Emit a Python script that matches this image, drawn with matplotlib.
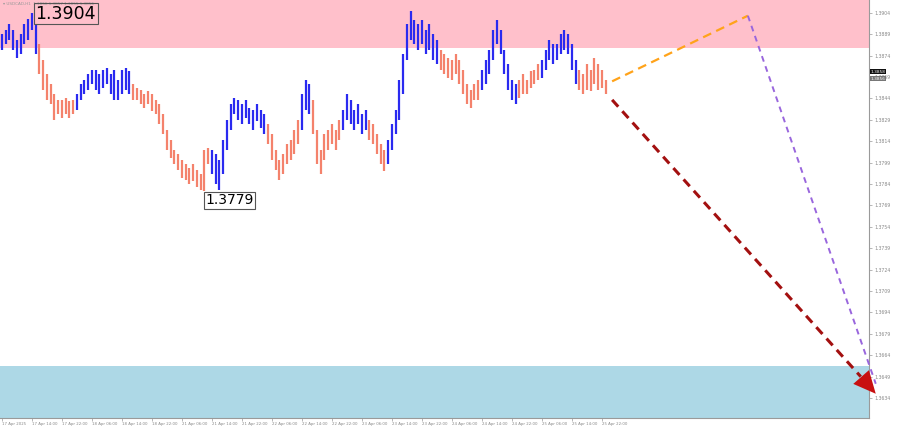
import numpy as np
import matplotlib
matplotlib.use("Agg")
import matplotlib.pyplot as plt

# USDCAD H1 bars (high / low per bar)
highs = [
    1.3889, 1.3892, 1.3896, 1.3892, 1.3885, 1.3889, 1.3896, 1.3900, 1.3904, 1.3896,
    1.3882, 1.3871, 1.3861, 1.3854, 1.3847, 1.3843, 1.3843, 1.3844, 1.3842, 1.3843,
    1.3847, 1.3854, 1.3857, 1.3861, 1.3864, 1.3864, 1.3861, 1.3864, 1.3865, 1.3861,
    1.3864, 1.3857, 1.3864, 1.3865, 1.3863, 1.3854, 1.3851, 1.3850, 1.3847, 1.3849,
    1.3847, 1.3843, 1.3840, 1.3833, 1.3822, 1.3815, 1.3808, 1.3805, 1.3801, 1.3798,
    1.3795, 1.3798, 1.3794, 1.3791, 1.3808, 1.3809, 1.3808, 1.3805, 1.3801, 1.3815,
    1.3829, 1.3840, 1.3844, 1.3843, 1.3840, 1.3843, 1.3837, 1.3836, 1.3840, 1.3836,
    1.3833, 1.3826, 1.3819, 1.3808, 1.3801, 1.3805, 1.3812, 1.3815, 1.3822, 1.3829,
    1.3847, 1.3857, 1.3854, 1.3843, 1.3822, 1.3808, 1.3819, 1.3822, 1.3826, 1.3822,
    1.3829, 1.3836, 1.3847, 1.3843, 1.3836, 1.3840, 1.3833, 1.3836, 1.3829, 1.3826,
    1.3819, 1.3812, 1.3808, 1.3815, 1.3826, 1.3836, 1.3857, 1.3875, 1.3896, 1.3905,
    1.3899, 1.3896, 1.3899, 1.3892, 1.3896, 1.3889, 1.3885, 1.3878, 1.3875, 1.3872,
    1.3871, 1.3875, 1.3871, 1.3864, 1.3854, 1.3850, 1.3854, 1.3857, 1.3864, 1.3871,
    1.3878, 1.3892, 1.3899, 1.3892, 1.3878, 1.3868, 1.3857, 1.3854, 1.3857, 1.3861,
    1.3857, 1.3863, 1.3864, 1.3868, 1.3871, 1.3878, 1.3885, 1.3882, 1.3882, 1.3889,
    1.3892, 1.3889, 1.3882, 1.3871, 1.3864, 1.3861, 1.3868, 1.3864, 1.3872, 1.3868,
    1.3864, 1.3857,
]
lows = [
    1.3878, 1.3882, 1.3885, 1.3878, 1.3872, 1.3875, 1.3882, 1.3885, 1.3892, 1.3875,
    1.3861, 1.3850, 1.3843, 1.3840, 1.3829, 1.3833, 1.3830, 1.3833, 1.3830, 1.3833,
    1.3836, 1.3843, 1.3847, 1.3850, 1.3854, 1.3850, 1.3847, 1.3851, 1.3854, 1.3847,
    1.3843, 1.3843, 1.3847, 1.3850, 1.3847, 1.3843, 1.3843, 1.3840, 1.3837, 1.3840,
    1.3835, 1.3833, 1.3826, 1.3819, 1.3808, 1.3802, 1.3798, 1.3794, 1.3788, 1.3787,
    1.3784, 1.3786, 1.3782, 1.3780, 1.3779, 1.3798, 1.3791, 1.3784, 1.3780, 1.3791,
    1.3808, 1.3822, 1.3833, 1.3829, 1.3826, 1.3830, 1.3826, 1.3822, 1.3828, 1.3823,
    1.3819, 1.3812, 1.3801, 1.3794, 1.3787, 1.3791, 1.3798, 1.3801, 1.3805, 1.3812,
    1.3822, 1.3836, 1.3833, 1.3819, 1.3798, 1.3791, 1.3801, 1.3808, 1.3812, 1.3808,
    1.3815, 1.3822, 1.3829, 1.3826, 1.3822, 1.3826, 1.3819, 1.3822, 1.3815, 1.3812,
    1.3805, 1.3798, 1.3793, 1.3798, 1.3808, 1.3819, 1.3829, 1.3847, 1.3871, 1.3885,
    1.3882, 1.3878, 1.3882, 1.3875, 1.3878, 1.3871, 1.3868, 1.3864, 1.3861, 1.3858,
    1.3857, 1.3861, 1.3854, 1.3847, 1.3840, 1.3837, 1.3843, 1.3843, 1.3850, 1.3854,
    1.3861, 1.3871, 1.3882, 1.3875, 1.3861, 1.3850, 1.3843, 1.3840, 1.3844, 1.3847,
    1.3847, 1.3851, 1.3854, 1.3857, 1.3858, 1.3864, 1.3871, 1.3868, 1.3871, 1.3875,
    1.3878, 1.3875, 1.3864, 1.3854, 1.3850, 1.3847, 1.3850, 1.3849, 1.3854, 1.3850,
    1.3851, 1.3847,
]

# wave segments: (first bar, last bar, direction)
segments = [
    (0, 9, "up"), (10, 19, "down"), (20, 34, "up"), (35, 55, "down"),
    (56, 70, "up"), (71, 79, "down"), (80, 82, "up"), (83, 90, "down"),
    (91, 97, "up"), (98, 102, "down"), (103, 116, "up"), (117, 127, "down"),
    (128, 137, "up"), (138, 143, "down"), (144, 153, "up"), (154, 161, "down"),
]

time_labels = [
    "17 Apr 2025", "17 Apr 14:00", "17 Apr 22:00", "18 Apr 06:00", "18 Apr 14:00",
    "18 Apr 22:00", "21 Apr 06:00", "21 Apr 14:00", "21 Apr 22:00", "22 Apr 06:00",
    "22 Apr 14:00", "22 Apr 22:00", "23 Apr 06:00", "23 Apr 14:00", "23 Apr 22:00",
    "24 Apr 06:00", "24 Apr 14:00", "24 Apr 22:00", "25 Apr 06:00", "25 Apr 14:00",
    "25 Apr 22:00",
]
price_ticks = [1.3634, 1.3649, 1.3664, 1.3679, 1.3694, 1.3709, 1.3724, 1.3739,
               1.3754, 1.3769, 1.3784, 1.3799, 1.3814, 1.3829, 1.3844, 1.3859,
               1.3874, 1.3889, 1.3904]

# zones and forecast
resistance_zone = (1.38794, 1.3913)
support_zone = (1.3620, 1.36568)
orange_x = [162.7, 198.9]
orange_y = [1.3856, 1.3902]
purple_x = [198.9, 233.0]
purple_y = [1.3902, 1.3644]
red_x = [162.7, 233.0]
red_y = [1.3843, 1.3637]

BLUE = "#2a2af0"
SALMON = "#f4826c"

fig = plt.figure(figsize=(9, 4.29), dpi=100)
ax = fig.add_axes([0.0, 11 / 429, 869 / 900, 418 / 429])
ax.set_xlim(-0.53, 231.2)
ax.set_ylim(1.3620, 1.3913)

ax.axhspan(*resistance_zone, color="#ffc0cb", zorder=0, lw=0)
ax.axhspan(*support_zone, color="#add8e6", zorder=0, lw=0)

idx = np.arange(len(highs))
for a, b, d in segments:
    c = BLUE if d == "up" else SALMON
    ax.vlines(idx[a:b + 1], lows[a:b + 1], highs[a:b + 1], color=c, lw=1.6, zorder=3)

# forecast lines
ax.plot(orange_x, orange_y, color="#ffa31a", lw=1.6, ls=(0, (4, 2.5)), zorder=4)
ax.plot(purple_x, purple_y, color="#9966dd", lw=1.4, ls=(0, (3, 2.5)), zorder=4, clip_on=False)
ax.plot([red_x[0], red_x[1] - 4], [red_y[0], red_y[1] + 0.0012],
        color="#a31010", lw=2.2, ls=(0, (3, 2)), zorder=5, clip_on=False)
ax.annotate("", xy=(red_x[1], red_y[1]), xytext=(red_x[1] - 6, red_y[1] + 0.0018),
            arrowprops=dict(arrowstyle="-|>,head_length=1.6,head_width=0.75",
                            color="#c81010", lw=0, shrinkA=0, shrinkB=0),
            annotation_clip=False, zorder=6)

# extreme labels
ax.text(8.9, 1.39035, "1.3904", fontsize=12.5, va="center", ha="left", color="black",
        bbox=dict(boxstyle="square,pad=0.1", fc="none", ec="#555555", lw=0.8), zorder=6)
ax.text(54.2, 1.37725, "1.3779", fontsize=10, va="center", ha="left", color="black",
        bbox=dict(boxstyle="square,pad=0.12", fc="white", ec="#555555", lw=0.8), zorder=6)

# header
ax.text(0.003, 0.995, "\u25be USDCAD,H1  1.3856 1.3857 1.3855 1.3856", transform=ax.transAxes,
        fontsize=3.0, color="#999999", va="top", ha="left")

# axes styling
for s in ["left", "top"]:
    ax.spines[s].set_visible(False)
for s in ["right", "bottom"]:
    ax.spines[s].set_color("#9a9a9a")
    ax.spines[s].set_linewidth(0.8)
ax.yaxis.tick_right()
ax.set_yticks(price_ticks)
ax.set_yticklabels([f"{p:.4f}" for p in price_ticks])
ax.tick_params(axis="y", labelsize=3.3, labelcolor="#888888", color="#9a9a9a",
               length=2, width=0.5, pad=2)
ax.set_xticks(np.arange(0, 8 * len(time_labels), 8))
ax.set_xticklabels(time_labels, ha="left")
ax.tick_params(axis="x", labelsize=2.8, labelcolor="#888888", color="#9a9a9a",
               length=2, width=0.5, pad=1)

# current price tags
ax.text(1.0015, 1.38628, "1.3858", transform=ax.get_yaxis_transform(), fontsize=3.1,
        color="white", va="center", ha="left",
        bbox=dict(boxstyle="square,pad=0.08", fc="#111111", ec="none"))
ax.text(1.0015, 1.38578, "1.3856", transform=ax.get_yaxis_transform(), fontsize=3.1,
        color="white", va="center", ha="left",
        bbox=dict(boxstyle="square,pad=0.08", fc="#777777", ec="none"))

fig.savefig("out.png", dpi=100)
